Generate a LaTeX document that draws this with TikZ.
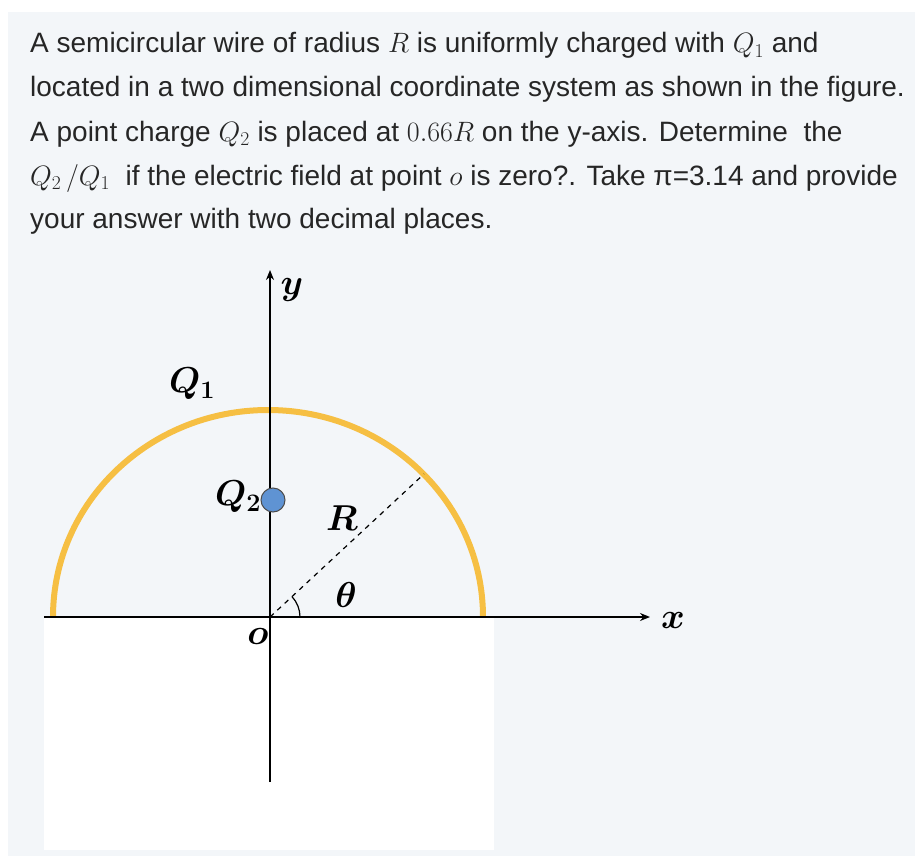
\documentclass[tikz,border=0pt]{standalone}
\usepackage{fix-cm}
\usepackage{fontspec}
\setmainfont{Liberation Sans}
\usepackage{amsmath}
\usetikzlibrary{arrows.meta}
\definecolor{bg}{HTML}{F3F6F9}
\definecolor{wire}{HTML}{F6BF43}
\definecolor{ball}{HTML}{5F93D3}
\tikzset{line/.style={line width=1.6pt,black},
 txt/.style={anchor=base west,inner sep=0pt,font=\fontsize{28}{32}\selectfont,text=black!85},
 lab/.style={font=\fontsize{36}{40}\selectfont}}
\begin{document}
\begin{tikzpicture}[x=1pt,y=-1pt]
\useasboundingbox (0,0) rectangle (915,856);
\fill[white] (0,0) rectangle (915,856);
\fill[bg] (8,12) rectangle (915,856);
\fill[white] (44,617) rectangle (494,850);
\node[txt] (t1) at (30,53) {A semicircular wire of radius $R$ is uniformly charged with $Q_1$ and};
\node[txt] (t2) at (30,97) {located in a two dimensional coordinate system as shown in the figure.};
\node[txt] (t3) at (30,141) {A point charge $Q_2$ is placed at $0.66R$ on the y-axis. Determine\ \ the};
\node[txt] (t4) at (30,185) {$Q_2\,/Q_1$\ \ if the electric field at point $o$ is zero?. Take π=3.14 and provide};
\node[txt] (t5) at (30,228) {your answer with two decimal places.};
\coordinate (O) at (270,617);
\draw[wire,line width=6pt] (53,617) arc[start angle=180,end angle=0,x radius=215,y radius=-207];
\draw[line,-{Stealth[length=10pt,width=8pt]}] (270,782) -- (270,270);
\draw[line,-{Stealth[length=10pt,width=8pt]}] (44,617) -- (650,617);
\coordinate (Rend) at (424,474);
\draw[dashed,line width=1.2pt,dash pattern=on 5pt off 5pt] (O) -- (Rend);
\draw[line width=1.2pt] (300,617) arc[start angle=0,end angle=-43,radius=30];
\node[draw=black!70,fill=ball,circle,minimum size=24pt,inner sep=0pt,line width=1pt] (q2) at (273,500) {};
\node[lab] (ly) at (292,290) {$\boldsymbol{y}$};
\node[lab] (lx) at (673,620) {$\boldsymbol{x}$};
\node[lab] (lq1) at (192,384) {$\boldsymbol{Q_1}$};
\node[lab] (lq2) at (238,497) {$\boldsymbol{Q_2}$};
\node[lab] (lr) at (342,518) {$\boldsymbol{R}$};
\node[lab] (lt) at (346,595) {$\boldsymbol{\theta}$};
\node[lab] (lo) at (258,636) {$\boldsymbol{o}$};
\end{tikzpicture}
\end{document}
